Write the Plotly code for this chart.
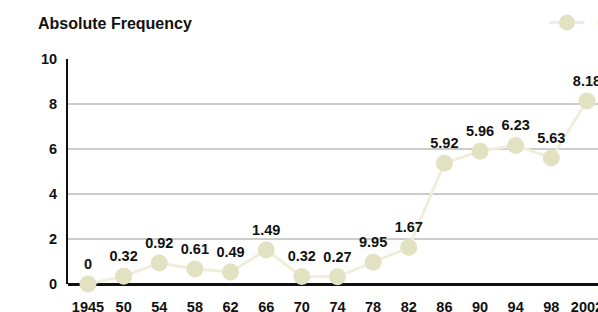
import plotly.graph_objects as go

years = ["1945", "50", "54", "58", "62", "66", "70", "74", "78", "82", "86", "90", "94", "98", "2002"]
values = [0.0, 0.35, 0.93, 0.67, 0.53, 1.51, 0.33, 0.32, 0.97, 1.63, 5.37, 5.9, 6.16, 5.6, 8.13]
labels = ["0", "0.32", "0.92", "0.61", "0.49", "1.49", "0.32", "0.27", "9.95", "1.67",
          "5.92", "5.96", "6.23", "5.63", "8.18"]
y_ticks = [0, 2, 4, 6, 8, 10]
series_name = "\u00a0\u00a0Conflicts"

FONT = "Liberation Sans, Arial, Helvetica, sans-serif"
W, H = 598, 312
L, T, B = 68, 59, 28
PW = W - L
PH = H - T - B

fig = go.Figure()
fig.add_trace(go.Scatter(
    x=list(range(len(years))), y=values, name=series_name,
    mode="lines+markers+text",
    text=labels, textposition="top center",
    textfont=dict(family=FONT, size=14.5, color="#111111", weight="bold"),
    line=dict(color="#efeedb", width=3),
    marker=dict(size=17, color="#e2e1c2"),
    cliponaxis=False,
    showlegend=True,
))

fig.update_layout(
    width=W, height=H,
    margin=dict(l=L, r=0, t=T, b=B, autoexpand=False),
    paper_bgcolor="white", plot_bgcolor="white",
    font=dict(family=FONT, size=14, color="#111111"),
    title=dict(text="<b>Absolute Frequency</b>", x=38/W, xanchor="left",
               xref="container", y=1-23/H, yanchor="middle", yref="container",
               font=dict(family=FONT, size=16, color="#111111")),
    showlegend=True,
    legend=dict(x=(544.5-L)/PW, xanchor="left", y=(H-B-23)/PH, yanchor="middle",
                itemwidth=35,
                font=dict(family=FONT, size=14, color="#999999"),
                bgcolor="rgba(0,0,0,0)"),
    xaxis=dict(
        tickmode="array", tickvals=list(range(len(years))), ticktext=years,
        range=[-0.561, -0.561 + PW/35.64], showgrid=False, zeroline=False,
        showline=False, ticks="", ticklabelstandoff=12, ticklabeloverflow="allow",
        tickfont=dict(family=FONT, size=14.5, color="#111111", weight="bold"),
        layer="below traces",
    ),
    yaxis=dict(
        range=[0, 10], tickvals=y_ticks, showgrid=True, gridcolor="#cccccc", gridwidth=2,
        zeroline=True, zerolinecolor="#111111", zerolinewidth=2.5,
        showline=True, linecolor="#111111", linewidth=2, ticks="",
        ticklabelstandoff=6,
        tickfont=dict(family=FONT, size=14.5, color="#111111", weight="bold"),
        layer="below traces",
    ),
)

fig.write_html("out.html", config={"displayModeBar": False},
               post_script="document.body.style.margin='0';document.body.style.overflow='hidden';")
